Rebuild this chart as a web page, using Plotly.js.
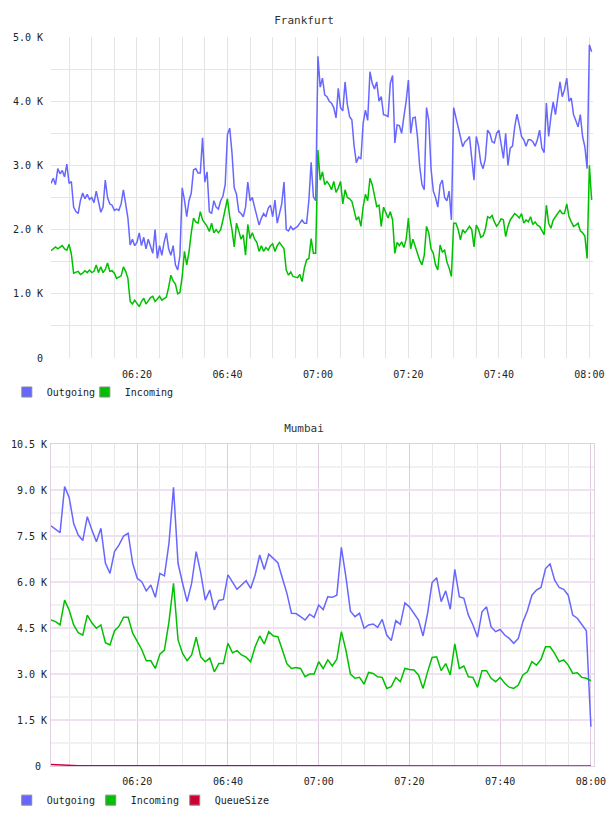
<!DOCTYPE html>
<html><head><meta charset="utf-8">
<script src="https://cdn.plot.ly/plotly-3.0.1.min.js"></script>
<style>html,body{margin:0;padding:0;background:#fff;overflow:hidden}#fra{width:608px;height:405px}#mum{width:608px;height:411px}</style>
</head><body><div id="fra"></div><div id="mum"></div>
<script>
// ---- Frankfurt (30 s samples, values in K) ----
const fraStart = '2024-01-01 06:01:00';
const fraStepSec = 30;
const fraOutgoing = [
2.72,2.8,2.7,2.95,2.87,2.92,2.82,3.02,2.72,2.75,
2.35,2.28,2.25,2.45,2.57,2.48,2.55,2.47,2.5,2.42,
2.6,2.45,2.27,2.35,2.77,2.5,2.4,2.38,2.3,2.32,
2.3,2.4,2.62,2.4,2.18,1.76,1.85,1.75,1.8,1.95,
1.75,1.88,1.7,1.85,1.75,1.63,2.0,1.55,1.75,1.6,
1.8,1.95,1.7,1.6,1.75,1.45,1.37,1.6,2.65,2.46,
2.2,2.45,2.57,2.93,2.95,2.88,2.88,3.43,2.74,2.9,
2.28,2.25,2.45,2.35,2.32,2.45,2.52,2.7,3.48,3.58,
3.2,2.65,2.55,2.28,2.25,2.2,2.35,2.74,2.45,2.5,
2.35,2.2,2.07,2.18,2.25,2.2,2.33,2.38,2.2,2.46,
2.1,2.25,2.4,2.74,2.0,1.98,2.05,2.0,2.02,2.05,
2.1,2.15,2.1,2.1,2.46,3.05,2.51,2.45,4.7,4.22,
4.36,4.1,4.07,4.0,3.97,3.9,3.74,4.2,3.9,3.85,
4.3,3.95,3.76,3.71,3.3,3.04,3.13,3.1,3.66,3.86,
3.7,4.46,4.28,4.19,4.3,4.0,4.07,3.79,3.78,3.76,
4.28,4.4,3.35,3.63,3.62,3.5,3.76,4.0,4.33,3.5,
3.74,3.75,3.45,2.98,2.7,2.62,3.9,3.7,2.95,2.6,
2.5,2.35,2.7,2.77,2.5,2.45,2.6,2.15,3.9,3.75,
3.55,3.43,3.29,3.37,3.4,3.45,3.1,2.77,3.45,3.3,
3.04,2.95,3.1,3.55,3.5,3.37,3.35,3.5,3.55,3.3,
3.11,3.5,3.0,3.27,3.3,3.6,3.8,3.63,3.45,3.4,
3.3,3.4,3.4,3.37,3.3,3.4,3.55,3.27,3.2,3.97,
3.45,3.76,3.99,3.79,4.02,4.3,4.07,4.18,4.36,4.0,
4.05,3.79,3.7,3.6,3.79,3.45,3.29,2.95,4.88,4.77];
const fraIncoming = [
1.67,1.7,1.73,1.7,1.72,1.75,1.7,1.68,1.77,1.62,
1.32,1.33,1.35,1.3,1.32,1.36,1.33,1.37,1.33,1.35,
1.45,1.33,1.42,1.33,1.38,1.48,1.35,1.36,1.32,1.24,
1.26,1.28,1.42,1.35,1.24,0.88,0.84,0.9,0.85,0.8,
0.88,0.93,0.84,0.9,0.94,0.96,0.88,0.92,0.96,0.9,
0.92,0.95,1.1,1.29,1.2,1.15,1.0,1.02,1.27,1.66,
1.45,1.65,1.95,2.18,2.12,2.1,2.28,2.15,2.1,2.05,
1.97,2.1,1.95,2.0,1.95,2.0,2.15,2.3,2.48,2.2,
2.0,1.73,2.1,1.98,1.85,1.92,1.6,2.08,1.86,1.95,
1.85,1.8,1.66,1.75,1.66,1.72,1.68,1.75,1.78,1.66,
1.75,1.8,1.74,1.7,1.37,1.29,1.34,1.27,1.26,1.25,
1.3,1.19,1.4,1.53,1.55,1.86,1.63,1.63,3.24,2.77,
2.9,2.7,2.75,2.7,2.62,2.75,2.58,2.65,2.75,2.4,
2.62,2.5,2.48,2.44,2.3,2.15,2.2,2.05,2.36,2.55,
2.45,2.8,2.7,2.5,2.36,2.38,2.05,2.35,2.25,2.18,
2.28,2.15,1.63,1.8,1.75,1.81,1.72,1.85,2.18,1.7,
1.85,1.73,1.62,1.52,1.45,1.6,2.05,1.95,1.7,1.63,
1.45,1.37,1.76,1.65,1.68,1.5,1.4,1.27,2.1,2.1,
2.0,1.84,2.0,1.95,2.0,2.05,2.0,1.73,2.07,2.0,
1.88,1.9,2.0,2.2,2.18,2.22,2.12,2.05,2.1,2.17,
2.15,1.89,2.05,2.15,2.2,2.25,2.22,2.18,2.25,2.1,
2.15,2.12,2.2,2.08,2.12,2.07,2.05,1.98,1.92,2.38,
2.1,2.02,2.15,2.2,2.25,2.3,2.25,2.25,2.4,2.2,
2.12,2.05,2.07,2.1,1.98,1.95,1.9,1.55,3.0,2.46];
const fraTickVals = [0,1,2,3,4,5];
const fraTickText = ['0','1.0 K','2.0 K','3.0 K','4.0 K','5.0 K'];

// ---- Mumbai (1 min samples, values in K) ----
const mumStart = '2024-01-01 06:01:00';
const mumStepSec = 60;
const mumOutgoing = [
7.83,7.72,7.61,9.11,8.76,7.91,7.53,7.35,8.13,7.7,
7.31,7.75,6.61,6.28,6.99,7.21,7.5,7.59,6.61,6.12,
6.01,5.71,5.9,5.5,6.28,6.2,7.26,9.09,6.61,5.96,
5.36,5.96,6.99,6.3,5.41,5.74,5.09,5.4,5.43,6.23,
6.01,5.76,5.9,6.04,5.79,6.23,6.88,6.41,6.91,6.77,
6.63,6.12,5.63,4.98,4.97,4.87,4.76,4.95,4.85,5.25,
5.1,5.52,5.5,5.57,7.13,6.17,5.05,4.87,4.98,4.49,
4.6,4.63,4.52,4.78,4.27,4.09,4.74,4.62,5.32,5.19,
4.98,4.76,4.24,4.98,5.98,6.14,5.36,5.71,5.11,6.41,
5.52,5.47,4.92,4.6,4.2,5.03,5.19,4.54,4.38,4.45,
4.27,4.16,4.0,4.16,4.7,5.06,5.57,5.74,5.82,6.44,
6.59,6.07,5.82,5.76,5.57,4.92,4.82,4.6,4.41,1.28];
const mumIncoming = [
4.76,4.71,4.6,5.41,5.09,4.6,4.35,4.27,4.92,4.67,
4.49,4.6,4.02,3.95,4.41,4.56,4.85,4.85,4.33,4.05,
3.8,3.43,3.43,3.18,3.65,3.78,4.7,5.96,4.11,3.67,
3.43,3.62,4.2,3.56,3.4,3.52,3.07,3.34,3.34,4.0,
3.69,3.76,3.62,3.55,3.4,3.89,4.24,3.98,4.38,4.24,
4.22,3.78,3.33,3.18,3.21,3.18,2.91,3.0,3.0,3.4,
3.18,3.46,3.26,3.48,4.38,3.78,3.0,2.86,2.89,2.67,
3.05,3.02,2.91,2.89,2.53,2.59,2.89,2.75,3.18,3.15,
3.13,2.97,2.53,3.07,3.54,3.56,3.11,3.34,2.97,3.98,
3.18,3.26,2.91,2.89,2.57,3.11,3.11,2.86,2.75,2.89,
2.7,2.57,2.53,2.64,2.97,3.07,3.4,3.29,3.48,3.89,
3.89,3.67,3.4,3.46,3.29,3.02,3.04,2.89,2.86,2.78];
const mumQueueSize = [
0.05,0.04,0.03,0.03,0.02,0.02,0.01,0.01,0.01,0,
0,0,0,0,0,0,0,0,0,0,
0,0,0,0,0,0,0,0,0,0,
0,0,0,0,0,0,0,0,0,0,
0,0,0,0,0.01,0.01,0.02,0.02,0.01,0,
0,0,0,0,0,0,0,0,0,0,
0,0,0,0,0.01,0.01,0.01,0,0,0,
0,0,0,0,0,0,0,0,0,0,
0,0,0,0,0,0,0.01,0.02,0.02,0.01,
0,0,0,0,0,0,0,0,0,0,
0,0,0,0,0,0,0,0,0,0,
0,0,0,0,0,0,0,0,0,0];
const mumTickVals = [0,1.5,3,4.5,6,7.5,9,10.5];
const mumTickText = ['0\u00a0','1.5 K','3.0 K','4.5 K','6.0 K','7.5 K','9.0 K','10.5 K'];

const seriesNames = ['Outgoing','Incoming','QueueSize'];
const seriesColors = ['#6767ff','#00c000','#cc0033'];

function times(start, stepSec, n){
  const [d,t] = start.split(' ');
  const [h,m,s] = t.split(':').map(Number);
  const base = h*3600+m*60+s;
  const out = [];
  const p = v => String(v).padStart(2,'0');
  for(let i=0;i<n;i++){
    const tt = base + i*stepSec;
    out.push(d+' '+p(Math.floor(tt/3600))+':'+p(Math.floor(tt/60)%60)+':'+p(tt%60));
  }
  return out;
}

const FONT = 'DejaVu Sans Mono';
function lineTrace(x,y,i){
  return {x:x,y:y,type:'scatter',mode:'lines',name:seriesNames[i],showlegend:false,
    line:{color:seriesColors[i],width:1.5},hoverinfo:'skip'};
}
function legendTrace(i){
  return {x:[null],y:[null],type:'scatter',mode:'markers',name:seriesNames[i],showlegend:true,
    marker:{symbol:'square',size:10,color:seriesColors[i],line:{color:'#888',width:1}}};
}
function spacerTrace(){
  return {x:[null],y:[null],type:'scatter',mode:'markers',name:'\u00a0',showlegend:true,
    marker:{symbol:'square',size:1,color:'rgba(0,0,0,0)',line:{width:0}}};
}

// Frankfurt
const fx = times(fraStart, fraStepSec, fraOutgoing.length);
const fraGrid = '#e4e4e4';
Plotly.newPlot('fra', [
  lineTrace(fx, fraIncoming, 1),
  lineTrace(fx, fraOutgoing, 0),
  legendTrace(0), legendTrace(1), spacerTrace()
], {
  width:608, height:405,
  margin:{l:51,r:15,t:37,b:47,pad:0,autoexpand:false},
  paper_bgcolor:'#fff', plot_bgcolor:'#fff',
  font:{family:FONT,size:10,color:'#222'},
  title:{text:'Frankfurt',font:{family:FONT,size:11,color:'#333'},x:0.5,xref:'container',xanchor:'center',y:1-20/405,yref:'container',yanchor:'middle'},
  showlegend:true,
  legend:{orientation:'h',x:-0.0815,xanchor:'left',y:-0.106,yanchor:'middle',font:{family:FONT,size:10,color:'#222'},entrywidth:33,entrywidthmode:'pixels',bgcolor:'rgba(0,0,0,0)'},
  xaxis:{type:'date',range:['2024-01-01 06:01:00','2024-01-01 08:00:48'],tickformat:'%H:%M',automargin:false,
    tickmode:'linear',tick0:'2024-01-01 06:00:00',dtick:1200000,ticks:'',ticklabelstandoff:9,
    showgrid:true,gridcolor:fraGrid,gridwidth:1,zeroline:false,showline:false,fixedrange:true,
    minor:{tickmode:'linear',tick0:'2024-01-01 06:00:00',dtick:300000,showgrid:true,gridcolor:fraGrid,gridwidth:1}},
  yaxis:{range:[0,5],tickmode:'array',tickvals:fraTickVals,ticktext:fraTickText,ticks:'',ticklabelstandoff:7,automargin:false,
    showgrid:true,gridcolor:fraGrid,gridwidth:1,zeroline:false,showline:false,fixedrange:true,
    minor:{tickmode:'linear',tick0:0,dtick:0.5,showgrid:true,gridcolor:fraGrid,gridwidth:1}}
}, {displayModeBar:false,staticPlot:true});

// Mumbai
const mx = times(mumStart, mumStepSec, mumOutgoing.length);
const mumBorder = '#e2cfe2';
Plotly.newPlot('mum', [
  lineTrace(mx, mumOutgoing, 0),
  lineTrace(mx, mumIncoming, 1),
  lineTrace(mx, mumQueueSize, 2),
  legendTrace(0), legendTrace(1), legendTrace(2), spacerTrace()
], {
  width:608, height:411,
  margin:{l:51,r:14,t:39,b:50,pad:0,autoexpand:false},
  paper_bgcolor:'#fff', plot_bgcolor:'#fff',
  font:{family:FONT,size:10,color:'#222'},
  title:{text:'Mumbai',font:{family:FONT,size:11,color:'#333'},x:0.5,xref:'container',xanchor:'center',y:1-23/411,yref:'container',yanchor:'middle'},
  showlegend:true,
  legend:{orientation:'h',x:-0.0815,xanchor:'left',y:-0.106,yanchor:'middle',font:{family:FONT,size:10,color:'#222'},entrywidth:39,entrywidthmode:'pixels',bgcolor:'rgba(0,0,0,0)'},
  xaxis:{type:'date',range:['2024-01-01 06:01:00','2024-01-01 08:00:41'],tickformat:'%H:%M',automargin:false,
    tickmode:'linear',tick0:'2024-01-01 06:00:00',dtick:1200000,ticks:'',ticklabelstandoff:6,
    showgrid:true,gridcolor:'#dfcadf',gridwidth:1,zeroline:false,showline:true,mirror:true,linecolor:mumBorder,linewidth:1,fixedrange:true,
    minor:{tickmode:'linear',tick0:'2024-01-01 06:00:00',dtick:300000,showgrid:true,gridcolor:'#e8e8e8',gridwidth:1}},
  yaxis:{range:[0,10.5],tickmode:'array',tickvals:mumTickVals,ticktext:mumTickText,ticks:'',ticklabelstandoff:1,automargin:false,
    showgrid:true,gridcolor:'#f0e1f0',gridwidth:2,zeroline:false,showline:true,mirror:true,linecolor:mumBorder,linewidth:1,fixedrange:true,
    minor:{tickmode:'linear',tick0:0,dtick:0.75,showgrid:true,gridcolor:'#f1f1f1',gridwidth:2}}
}, {displayModeBar:false,staticPlot:true});
</script></body></html>
